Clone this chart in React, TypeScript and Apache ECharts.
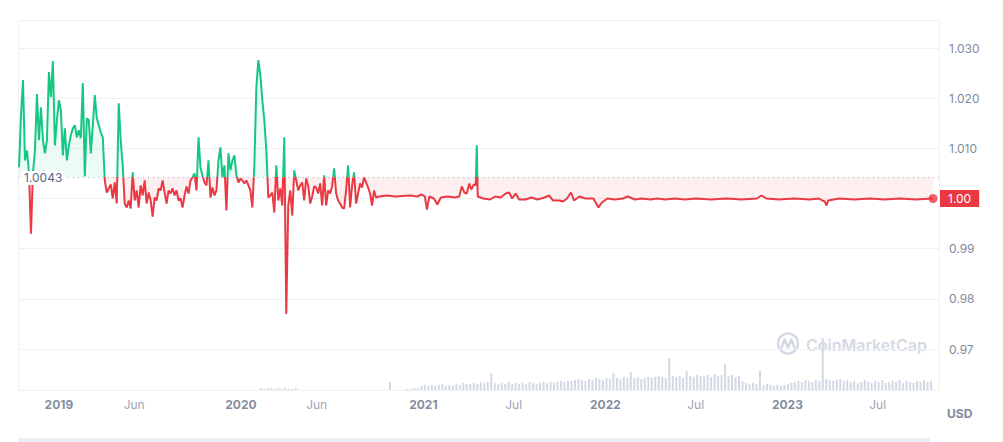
import React, { useEffect, useRef } from "react";
import * as echarts from "echarts";

// ---------- data ----------
const BASELINE = 1.0043; // reference (open) price shown on the chart
const GREEN = "#16c784";
const RED = "#ea3943";

// early, volatile period: one reading every 4 days starting 2018-10-13
const EARLY_START = "2018-10-13";
const EARLY_STEP_DAYS = 4;
const earlyPrices = [
  1.0062, 1.0166, 1.0236, 1.0076, 1.0096, 1.0052, 0.993, 1.0052, 1.0096, 1.0208,
  1.0116, 1.0182, 1.0116, 1.009, 1.0116, 1.0252, 1.0202, 1.0274, 1.0106, 1.0156,
  1.0196, 1.0176, 1.0086, 1.014, 1.0076, 1.0106, 1.0126, 1.014, 1.0146, 1.0122,
  1.0136, 1.012, 1.023, 1.0044, 1.016, 1.0156, 1.009, 1.0146, 1.0206, 1.016,
  1.0146, 1.0132, 1.0122, 1.0036, 1.0012, 1.002, 1.0028, 1.0, 1.0032, 0.999,
  1.019, 1.0116, 1.0066, 0.999, 0.9982, 0.9996, 0.998, 1.0052, 0.9996, 1.0016,
  0.9982, 1.0026, 1.0006, 1.0036, 0.999, 1.0012, 0.9996, 0.9964, 1.0002, 0.9996,
  1.002, 1.0016, 1.0036, 1.0012, 0.999, 1.0016, 1.001, 1.002, 1.0006, 1.0016,
  0.9996, 1.0, 0.9982, 1.0006, 1.0024, 1.001, 1.0036, 1.0042, 1.005, 1.0016,
  1.0122, 1.0062, 1.0046, 1.0032, 1.0026, 1.0076, 1.0002, 1.0022, 1.0006, 1.0016,
  1.0076, 1.0102, 1.0042, 1.0066, 0.9976, 1.009, 1.0056, 1.0076, 1.0086, 1.0046,
  1.0032, 1.004, 1.0036, 1.003, 1.0036, 1.0026, 1.0016, 0.9982, 1.0066, 1.0222,
  1.0276, 1.0246, 1.0196, 1.0156, 1.0096, 1.0002, 1.0006, 1.0012, 0.9972, 1.0066,
  0.9996, 1.002, 0.9986, 1.0122, 0.977, 0.9986, 1.0016, 0.9966, 1.0056, 1.0036,
  1.0016, 1.0026, 1.0032, 0.9996, 1.004, 1.0026, 0.999, 1.0004, 1.0024, 1.0022,
  1.001, 1.003, 0.9986, 1.0046, 0.9986, 1.0016, 1.001, 1.0024, 1.006, 1.001,
  0.9996, 0.999, 0.9982, 0.998, 1.0016, 1.0066, 0.9982, 1.0026, 1.0052, 0.999,
  1.001, 1.003, 1.0022, 1.0042, 1.0032, 1.0022, 1.001, 0.9986, 1.0016, 1.0002,
];

// calmer period: irregular readings
const lateDates = [
  "2020-10-05", "2020-10-20", "2020-11-05", "2020-11-20", "2020-12-05", "2020-12-20", "2020-12-28",
  "2021-01-04", "2021-01-08", "2021-01-13", "2021-01-22", "2021-01-29", "2021-02-05", "2021-02-20", "2021-03-05", "2021-03-14", "2021-03-19",
  "2021-03-24", "2021-03-29", "2021-04-03", "2021-04-07", "2021-04-12", "2021-04-16", "2021-04-18", "2021-04-20", "2021-05-01", "2021-05-15",
  "2021-05-25", "2021-06-05", "2021-06-15", "2021-06-22", "2021-06-28", "2021-07-05", "2021-07-12", "2021-07-25", "2021-08-05", "2021-08-18",
  "2021-09-01", "2021-09-10", "2021-09-18", "2021-10-01", "2021-10-08", "2021-10-16", "2021-10-24", "2021-10-30", "2021-11-10", "2021-11-22",
  "2021-12-08", "2021-12-18", "2021-12-25",
  "2022-01-05", "2022-01-20", "2022-02-05", "2022-02-15", "2022-03-01", "2022-03-15", "2022-04-01", "2022-04-15", "2022-05-01", "2022-05-20",
  "2022-06-10", "2022-07-01", "2022-08-01", "2022-09-01", "2022-10-01", "2022-11-01", "2022-11-10", "2022-11-20", "2022-12-15",
  "2023-01-15", "2023-02-15", "2023-03-05", "2023-03-12", "2023-03-17", "2023-03-20", "2023-03-24", "2023-04-15", "2023-05-15", "2023-06-15",
  "2023-07-15", "2023-08-15", "2023-09-15", "2023-10-20",
];
const latePrices = [
  1.0004, 1.0006, 1.0004, 1.0005, 1.0006, 1.0004, 1.0008,
  1.0004, 0.9978, 1.0004, 1.0, 0.9988, 1.0002, 1.0004, 1.0002, 1.0004, 1.0024,
  1.0012, 1.001, 1.003, 1.0018, 1.0028, 1.0026, 1.0106, 1.0004, 1.0, 0.9998,
  1.0004, 1.0002, 1.001, 1.0012, 1.0, 1.001, 0.9998, 0.9998, 1.0002, 0.9998,
  1.0002, 1.0006, 0.9996, 0.9996, 0.9994, 1.0, 1.0012, 0.9996, 1.0004, 1.0,
  1.0, 0.9982, 0.9992,
  1.0, 0.9998, 1.0, 1.0004, 0.9998, 1.0, 0.9998, 1.0, 0.9998, 1.0,
  0.9998, 1.0, 0.9998, 1.0, 0.9998, 1.0, 1.0006, 1.0, 0.9998,
  1.0, 0.9998, 1.0, 0.9996, 0.9994, 0.9986, 0.9996, 1.0, 0.9998, 1.0,
  0.9998, 1.0, 0.9998, 1.0,
];

// traded volume (USD millions), one bar per week starting 2020-02-10
const VOLUME_START = "2020-02-10";
const VOLUME_STEP_DAYS = 7;
const volumes = [
  4, 2, 4, 4, 2, 4, 2, 4, 2, 2, 4,
  0, 0, 0, 0, 0, 0, 0, 0, 0, 0, 0, 0, 0, 0, 0, 0, 0, 0, 0, 0, 0, 0, 0, 0, 0, 0,
  16, 0, 0, 0, 0, 2, 2, 4, 4,
  8, 10, 8, 10, 8, 10, 12, 8, 10, 8, 12, 10, 14, 12,
  12, 14, 12, 16, 14, 16, 34, 14, 12, 14, 12, 16, 12, 14, 12,
  14, 12, 16, 14, 12, 14, 16, 14, 16, 14, 16, 18, 16, 18,
  18, 20, 22, 20, 18, 22, 20, 24, 22, 20, 24, 22,
  34, 24, 22, 26, 24, 36, 24, 26, 22, 24, 26,
  24, 26, 28, 26, 24, 64, 28, 26, 28, 24, 38, 28, 26, 30, 28,
  28, 30, 26, 32, 28, 30, 52, 28, 30, 26, 28, 18, 14,
  12, 14, 12, 38, 10, 12, 10, 8, 10, 8, 10, 12, 14,
  16, 18, 16, 20, 18, 16, 20, 18,
  104,
  22, 20, 18, 20, 22, 18, 20,
  16, 18, 14, 16, 20, 16, 14, 18, 16, 20, 14, 16, 18, 16, 20, 14, 18, 16, 14, 18, 16, 20, 16, 18,
];

const X_MIN = "2018-10-11";
const X_MAX = "2023-11-01";
const xLabelDates = [
  "2019-01-01", "2019-06-01", "2020-01-01", "2020-06-01", "2021-01-01",
  "2021-07-01", "2022-01-01", "2022-07-01", "2023-01-01", "2023-07-01",
];
const MONTHS = ["Jan", "Feb", "Mar", "Apr", "May", "Jun", "Jul", "Aug", "Sep", "Oct", "Nov", "Dec"];
const Y_MIN = 0.97;
const Y_MAX = 1.03;
const Y_STEP = 0.01;

// ---------- helpers ----------
const DAY = 86400000;
const ts = (s: string) => {
  const [y, m, d] = s.split("-").map(Number);
  return Date.UTC(y, m - 1, d);
};

const priceData: [number, number][] = [
  ...earlyPrices.map((v, i) => [ts(EARLY_START) + i * EARLY_STEP_DAYS * DAY, v] as [number, number]),
  ...latePrices.map((v, i) => [ts(lateDates[i]), v] as [number, number]),
];
const volumeData: [number, number][] = volumes.map(
  (v, i) => [ts(VOLUME_START) + i * VOLUME_STEP_DAYS * DAY, v] as [number, number]
);
const labelData: [number, number][] = xLabelDates.map((d) => [ts(d), 0] as [number, number]);
const last = priceData[priceData.length - 1];

const FONT = "Inter, 'Noto Sans', sans-serif";

export default function App() {
  const ref = useRef<HTMLDivElement>(null);

  useEffect(() => {
    if (!ref.current) return;
    const chart = echarts.init(ref.current, null, { renderer: "svg" });

    chart.setOption({
      animation: false,
      backgroundColor: "#ffffff",
      textStyle: { fontFamily: FONT },
      grid: [
        { left: 18, right: 64, top: 48, height: 301, containLabel: false },
        { left: 18, right: 64, top: 330, height: 60, containLabel: false },
      ],
      xAxis: [
        { type: "value", gridIndex: 0, min: ts(X_MIN), max: ts(X_MAX), show: false, splitLine: { show: false } },
        {
          type: "value",
          gridIndex: 1,
          min: ts(X_MIN),
          max: ts(X_MAX),
          axisLine: { show: true, lineStyle: { color: "#eff2f5", width: 1 } },
          axisTick: { show: false },
          splitLine: { show: false },
          axisLabel: { show: false },
        },
      ],
      yAxis: [
        {
          type: "value",
          gridIndex: 0,
          position: "right",
          min: Y_MIN,
          max: Y_MAX,
          interval: Y_STEP,
          axisLine: { show: false },
          axisTick: { show: false },
          splitLine: { show: true, lineStyle: { color: "#eff2f5", width: 1 } },
          axisLabel: {
            margin: 10,
            showMinLabel: true,
            showMaxLabel: true,
            color: "#808a9d",
            fontSize: 12,
            fontFamily: FONT,
            formatter: (v: number) =>
              Math.abs(v - 1) < 1e-6 ? "" : v > 1 ? v.toFixed(3) : v.toFixed(2),
          },
        },
        { type: "value", gridIndex: 1, min: 0, max: 120, show: false },
      ],
      visualMap: [
        {
          type: "piecewise",
          show: false,
          seriesIndex: 0,
          dimension: 1,
          pieces: [
            { gt: BASELINE, lte: 2, color: GREEN },
            { gt: 0, lte: BASELINE, color: RED },
          ],
          outOfRange: { color: RED },
        },
      ],
      graphic: [
        {
          type: "rect",
          z: -1,
          silent: true,
          shape: { x: 18.5, y: 20.5, width: 921, height: 370 },
          style: { fill: "none", stroke: "#eff2f5", lineWidth: 1 },
        },
        {
          type: "text",
          x: 947,
          y: 413,
          silent: true,
          style: {
            text: "USD",
            fill: "#808a9d",
            font: `700 12px ${FONT}`,
            verticalAlign: "middle",
          },
        },
        {
          type: "circle",
          silent: true,
          z: 0,
          shape: { cx: 788, cy: 343.5, r: 10 },
          style: { fill: "none", stroke: "#d3d9e3", lineWidth: 2.4 },
        },
        {
          type: "polyline",
          silent: true,
          z: 0,
          shape: { points: [[781, 349], [784.5, 339.5], [788, 347.5], [791.5, 339.5], [794.5, 348]] },
          style: { fill: "none", stroke: "#d3d9e3", lineWidth: 2.4, lineJoin: "round", lineCap: "round" },
        },
        {
          type: "text",
          x: 806,
          y: 345,
          silent: true,
          z: 0,
          style: {
            text: "CoinMarketCap",
            fill: "#d3d9e3",
            font: `600 16px ${FONT}`,
            verticalAlign: "middle",
          },
        },
        {
          type: "rect",
          silent: true,
          shape: { x: 18, y: 438, width: 912, height: 4 },
          style: { fill: "#eef0f8" },
        },
      ],
      series: [
        {
          type: "line",
          name: "Price",
          xAxisIndex: 0,
          yAxisIndex: 0,
          data: priceData,
          clip: false,
          showSymbol: false,
          symbol: "none",
          lineStyle: { width: 2 },
          areaStyle: { origin: BASELINE, opacity: 0.08 },
          markLine: {
            silent: true,
            precision: 4,
            symbol: ["none", "none"],
            data: [
              {
                yAxis: BASELINE,
                lineStyle: { color: "#a6b0c3", type: [1, 4], width: 1 },
                label: {
                  show: true,
                  position: "insideStartTop",
                  distance: [4, -8],
                  formatter: () => BASELINE.toFixed(4),
                  color: "#58667e",
                  fontSize: 12,
                  fontFamily: FONT,
                  backgroundColor: "#ffffff",
                  padding: [1, 2],
                },
              },
            ],
          },
        },
        {
          type: "scatter",
          name: "Last",
          xAxisIndex: 0,
          yAxisIndex: 0,
          data: [last],
          clip: false,
          symbol: "circle",
          symbolSize: 9,
          itemStyle: { color: RED },
          silent: true,
          z: 5,
          markLine: {
            silent: true,
            precision: 4,
            symbol: ["none", "none"],
            lineStyle: { color: "rgba(255,255,255,0)", width: 0, opacity: 1 },
            data: [
              {
                yAxis: last[1],
                label: {
                  show: true,
                  position: "end",
                  distance: 1,
                  formatter: () => last[1].toFixed(2),
                  color: "#ffffff",
                  opacity: 1,
                  fontSize: 12,
                  fontFamily: FONT,
                  backgroundColor: RED,
                  padding: [3, 8, 2, 8],
                },
              },
            ],
          },
        },
        {
          type: "bar",
          name: "Volume",
          xAxisIndex: 1,
          yAxisIndex: 1,
          data: volumeData,
          barWidth: 2,
          itemStyle: { color: "#d3d9e4" },
        },
        {
          type: "scatter",
          name: "Date labels",
          xAxisIndex: 1,
          yAxisIndex: 1,
          data: labelData,
          symbolSize: 0,
          silent: true,
          label: {
            show: true,
            position: "bottom",
            distance: 8,
            formatter: (p: any) => {
              const d = new Date(p.value[0]);
              return d.getUTCMonth() === 0
                ? `{yr|${d.getUTCFullYear()}}`
                : `{mo|${MONTHS[d.getUTCMonth()]}}`;
            },
            rich: {
              yr: { fontFamily: FONT, fontSize: 12, fontWeight: 700, color: "#616e85" },
              mo: { fontFamily: FONT, fontSize: 12, color: "#808a9d" },
            },
          },
        },
      ],
    });

    return () => chart.dispose();
  }, []);

  return (
    <div
      ref={ref}
      style={{ position: "fixed", left: 0, top: 0, width: 1003, height: 442, background: "#fff" }}
    />
  );
}
